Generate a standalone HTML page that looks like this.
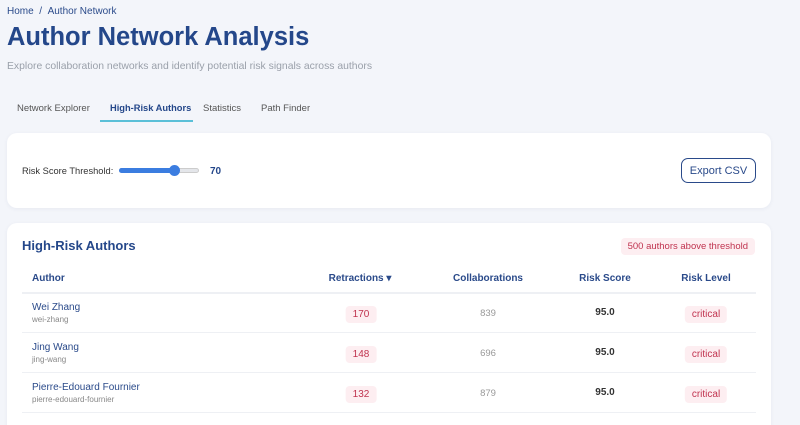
<!DOCTYPE html>
<html><head><style>
*{margin:0;padding:0;box-sizing:border-box}
html,body{width:800px;height:425px;overflow:hidden}
body{background:#f3f5fa;font-family:"Liberation Sans",sans-serif;position:relative}
.a{position:absolute;white-space:nowrap}
.card{position:absolute;background:#fff;border-radius:10px;box-shadow:0 1px 4px rgba(30,50,100,.06)}
.hd{font-size:10px;font-weight:bold;color:#2a4a8a;transform:translateX(-50%)}
.c{transform:translateX(-50%)}
.pill{background:#fdeef1;color:#c0334f;border-radius:4px;font-size:10px;padding:3px 7px}
.sep{position:absolute;left:22px;width:734px;height:1px;background:#eef0f4}
</style></head><body>
<div class="a" style="left:7px;top:6px;font-size:10px;color:#2a4a8a">Home&nbsp; / &nbsp;Author Network</div>
<div class="a" style="left:7px;top:23px;font-size:25.5px;font-weight:bold;color:#24478a">Author Network Analysis</div>
<div class="a" style="left:7px;top:61px;font-size:10.4px;color:#9aa0aa">Explore collaboration networks and identify potential risk signals across authors</div>
<div class="a" style="left:17px;top:103px;font-size:9.5px;color:#555">Network Explorer</div>
<div class="a" style="left:110px;top:103px;font-size:9.3px;color:#24478a;font-weight:bold">High-Risk Authors</div>
<div class="a" style="left:100px;top:120px;width:93px;height:2px;background:#5bc0d8"></div>
<div class="a" style="left:203px;top:103px;font-size:9.5px;color:#555">Statistics</div>
<div class="a" style="left:261px;top:103px;font-size:9.5px;color:#555">Path Finder</div>

<div class="card" style="left:7px;top:133px;width:764px;height:75px"></div>
<div class="a" style="left:22px;top:166px;font-size:9.3px;color:#333">Risk Score Threshold:</div>
<div class="a" style="left:119px;top:168px;width:80px;height:5px;border-radius:3px;background:#e4e6ea;border:1px solid #ccc"></div>
<div class="a" style="left:119px;top:168px;width:56px;height:5px;border-radius:3px;background:#3b7de0"></div>
<div class="a" style="left:169px;top:165px;width:11px;height:11px;border-radius:50%;background:#3b7de0"></div>
<div class="a" style="left:210px;top:166px;font-size:10px;font-weight:bold;color:#24478a">70</div>
<div class="a" style="left:681px;top:158px;width:75px;height:25px;border:1.5px solid #2a4a8a;border-radius:7px;font-size:11px;color:#2a4a8a;display:flex;align-items:center;justify-content:center">Export CSV</div>

<div class="card" style="left:7px;top:223px;width:764px;height:220px"></div>
<div class="a" style="left:22px;top:238px;font-size:13px;font-weight:bold;color:#24478a">High-Risk Authors</div>
<div class="a pill" style="right:45px;top:238px;font-size:9.5px">500 authors above threshold</div>
<div class="a hd" style="left:32px;top:273px;transform:none">Author</div>
<div class="a hd" style="left:360px;top:273px">Retractions ▾</div>
<div class="a hd" style="left:488px;top:273px">Collaborations</div>
<div class="a hd" style="left:605px;top:273px">Risk Score</div>
<div class="a hd" style="left:706px;top:273px">Risk Level</div>
<div class="sep" style="top:292px;height:2px"></div>

<div class="a" style="left:32px;top:302px;font-size:10px;color:#2a4a8a">Wei Zhang</div>
<div class="a" style="left:32px;top:315px;font-size:8px;color:#888">wei-zhang</div>
<div class="a pill c" style="left:361px;top:306px">170</div>
<div class="a c" style="left:488px;top:308px;font-size:9.5px;color:#999">839</div>
<div class="a c" style="left:605px;top:307px;font-size:10px;font-weight:bold;color:#333">95.0</div>
<div class="a pill c" style="left:706px;top:306px">critical</div>
<div class="sep" style="top:332px"></div>

<div class="a" style="left:32px;top:342px;font-size:10px;color:#2a4a8a">Jing Wang</div>
<div class="a" style="left:32px;top:355px;font-size:8px;color:#888">jing-wang</div>
<div class="a pill c" style="left:361px;top:346px">148</div>
<div class="a c" style="left:488px;top:348px;font-size:9.5px;color:#999">696</div>
<div class="a c" style="left:605px;top:347px;font-size:10px;font-weight:bold;color:#333">95.0</div>
<div class="a pill c" style="left:706px;top:346px">critical</div>
<div class="sep" style="top:372px"></div>

<div class="a" style="left:32px;top:382px;font-size:10px;color:#2a4a8a">Pierre-Edouard Fournier</div>
<div class="a" style="left:32px;top:395px;font-size:8px;color:#888">pierre-edouard-fournier</div>
<div class="a pill c" style="left:361px;top:386px">132</div>
<div class="a c" style="left:488px;top:388px;font-size:9.5px;color:#999">879</div>
<div class="a c" style="left:605px;top:387px;font-size:10px;font-weight:bold;color:#333">95.0</div>
<div class="a pill c" style="left:706px;top:386px">critical</div>
<div class="sep" style="top:412px"></div>
</body></html>
